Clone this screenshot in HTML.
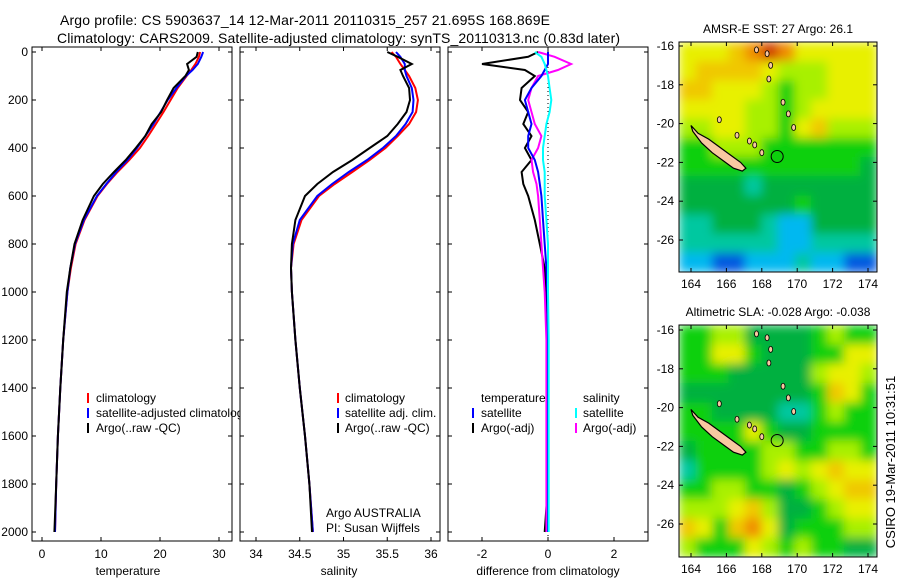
<!DOCTYPE html>
<html><head><meta charset="utf-8"><style>
body{margin:0;background:#fff}
svg{display:block;font-family:"Liberation Sans",sans-serif;font-size:12px}
</style></head><body>
<svg id="fig" width="900" height="580" viewBox="0 0 900 580">
<defs>
<filter id="blur" x="0" y="0" width="1" height="1"><feGaussianBlur stdDeviation="5" edgeMode="duplicate"/></filter>
<clipPath id="clipTop"><rect x="679" y="42" width="198" height="230"/></clipPath>
<clipPath id="clipBot"><rect x="679" y="325" width="198" height="232"/></clipPath>
</defs>
<text x="60" y="25" font-size="14" textLength="490">Argo profile: CS 5903637_14 12-Mar-2011 20110315_257 21.695S 168.869E</text>
<text x="57" y="43" font-size="14" textLength="563">Climatology: CARS2009. Satellite-adjusted climatology: synTS_20110313.nc (0.83d later)</text>
<g id="plots"></g>
<text transform="translate(895,462) rotate(-90)" text-anchor="middle" font-size="13">CSIRO 19-Mar-2011 10:31:51</text>
</svg>
<script>
const depths=[0,20,50,75,100,150,200,250,300,350,400,450,500,550,600,700,800,900,1000,1200,1400,1600,1800,2000];
const tempClim=[26.8,26.6,26,25.3,24.5,23,21.8,20.6,19.3,18,16.6,14.8,12.8,11,9.4,7.2,5.7,4.9,4.3,3.6,3.1,2.7,2.4,2.2];
const tempSat=[27.3,27,26.4,25.5,24.4,22.8,21.3,20.1,18.9,17.5,16.1,14.5,12.6,10.9,9.3,7.1,5.6,4.8,4.3,3.6,3.1,2.7,2.4,2.2];
const tempArgo=[26.4,26.2,24.6,24.9,24.3,22.3,21.2,20.2,18.6,17.5,15.9,14.2,12.2,10.3,8.8,6.9,5.5,4.8,4.2,3.6,3.1,2.7,2.4,2.1];
const salClim=[35.55,35.6,35.65,35.7,35.75,35.82,35.85,35.83,35.75,35.62,35.48,35.3,35.1,34.9,34.72,34.52,34.43,34.4,34.41,34.45,34.5,34.56,34.61,34.65];
const salSat=[35.6,35.65,35.7,35.7,35.72,35.78,35.8,35.79,35.71,35.6,35.45,35.27,35.06,34.87,34.7,34.5,34.42,34.4,34.41,34.45,34.5,34.56,34.61,34.65];
const salArgo=[35.5,35.62,35.78,35.65,35.68,35.75,35.76,35.72,35.62,35.5,35.3,35.1,34.88,34.7,34.56,34.45,34.41,34.4,34.41,34.45,34.5,34.56,34.61,34.64];
const dTempArgo=[-0.3,-0.6,-2.0,-0.7,-0.4,-0.8,-0.85,-0.6,-0.75,-0.5,-0.7,-0.5,-0.8,-0.75,-0.6,-0.4,-0.25,-0.1,-0.05,-0.02,0,0,0,-0.1];
const dTempSat=[0,0,0,-0.1,-0.2,-0.5,-0.7,-0.6,-0.5,-0.6,-0.6,-0.4,-0.3,-0.25,-0.2,-0.15,-0.1,-0.05,-0.02,0,0,0,0,0];
const dSalArgo=[-0.3,0.2,0.7,0.3,-0.3,-0.5,-0.6,-0.5,-0.4,-0.2,-0.3,-0.5,-0.45,-0.35,-0.3,-0.25,-0.2,-0.15,-0.1,-0.05,-0.05,-0.05,-0.05,-0.05];
const dSalSat=[-0.4,-0.2,-0.1,-0.05,0,0.05,0.1,0.05,-0.05,-0.1,-0.15,-0.15,-0.1,-0.1,-0.1,-0.05,0,0,0,0.02,0.02,0.02,0.02,0.02];
const depthTicks=[0,200,400,600,800,1000,1200,1400,1600,1800,2000];
const tempTicks=[0,10,20,30];
const salTicks=["34","34.5","35","35.5","36"];
const diffTicks=[-2,0,2];
const latTicks=[-16,-18,-20,-22,-24,-26];
const lonTicks=[164,166,168,170,172,174];
const palette=["#0058e0","#00b8f0","#00c8a0","#00b040","#10d010","#a8f000","#e8f000","#f0c800","#f08c00","#d04000"];
const sstGrid=[
[6,6,6,7,8,9,8,6,6,6,6,6],[6,7,7,7,7,6,5,5,5,6,6,6],[7,7,6,6,6,5,4,5,5,6,6,6],[6,6,6,6,5,5,4,5,6,6,6,6],
[5,5,6,6,5,5,4,6,7,5,5,5],[4,4,5,5,5,4,4,4,4,4,4,4],[4,4,4,4,4,4,4,4,4,4,4,3],[3,3,3,3,2,3,3,3,3,3,3,3],
[3,3,3,3,3,3,3,4,3,3,3,3],[2,2,3,3,3,2,1,1,3,3,3,3],[2,2,2,2,2,2,1,1,2,2,2,2],[1,1,0,0,1,1,1,2,1,1,0,0]];
const slaGrid=[
[4,4,5,5,3,3,3,3,4,5,4,4],[4,4,6,6,4,3,3,3,4,4,6,6],[4,4,4,3,3,3,3,3,5,6,6,5],[3,3,3,3,3,3,3,3,4,7,6,4],
[4,4,3,3,3,3,2,2,4,5,4,4],[4,4,4,4,6,4,3,3,4,4,4,4],[3,4,4,4,4,5,5,4,4,5,5,4],[2,4,4,4,4,5,6,5,6,7,6,6],
[4,4,5,5,4,4,3,4,5,6,7,7],[5,5,5,6,7,5,3,3,4,5,6,6],[7,6,4,7,8,6,3,4,4,4,5,5],[5,4,4,4,6,5,4,5,4,4,3,3]];
const ncLon=[164.0,164.4,165.0,165.6,166.2,166.8,167.1,166.9,166.4,165.8,165.2,164.6,164.1];
const ncLat=[-20.1,-20.5,-20.8,-21.2,-21.6,-22.0,-22.3,-22.45,-22.3,-21.9,-21.5,-21.0,-20.4];
const islLon=[167.7,168.3,168.5,168.4,169.2,169.5,167.3,167.6,168.0,166.6,165.6,169.8];
const islLat=[-16.2,-16.4,-17.0,-17.7,-18.9,-19.5,-20.9,-21.1,-21.5,-20.6,-19.8,-20.2];
const argoLon=168.869, argoLat=-21.695;

const NS="http://www.w3.org/2000/svg";
const root=document.getElementById('plots');
function mk(tag,attrs,parent){const e=document.createElementNS(NS,tag);for(const k in attrs)e.setAttribute(k,attrs[k]);(parent||root).appendChild(e);return e;}
function txt(x,y,s,anchor,parent){const t=mk('text',{x:x,y:y,'text-anchor':anchor||'start'},parent);t.textContent=s;return t;}
const yD=d=>52+d*0.24;
const Y0=47,Y1=541;
function panel(name,x0,x1){
  const g=mk('g',{});
  
  
  const r=mk('rect',{x:x0,y:Y0,width:x1-x0,height:Y1-Y0,fill:'#fff',stroke:'#000','stroke-width':1},g);
  
  
  return g;
}
function line(g,xs,xf,color,name,w){
  let p='';depths.forEach((d,i)=>{p+=(i?'L':'M')+xf(xs[i]).toFixed(1)+','+yD(d).toFixed(1);});
  const e=mk('path',{d:p,fill:'none',stroke:color,'stroke-width':w||2},g);
  
  
}
function xticks(g,vals,xf,labels){
  vals.forEach((v,i)=>{const x=xf(+v);
    mk('line',{x1:x,x2:x,y1:Y1,y2:Y1-4,stroke:'#000'},g);mk('line',{x1:x,x2:x,y1:Y0,y2:Y0+4,stroke:'#000'},g);
    const t=txt(x,558,labels?labels[i]:String(v),'middle',g);
    
    });
}
function legend(g,x,y,items,colx){
  items.forEach((it,i)=>{const yy=y+i*15;
    if(it[1]){const m=mk('line',{x1:colx,x2:colx,y1:yy-9,y2:yy+1,stroke:it[1],'stroke-width':2},g);
      
      }
    const t=txt(x,yy,it[0],'start',g);
    
    });
}
// Panel 1 temperature
const xT=v=>42+v*5.9;
const g1=panel('temperature-panel',32,232);
depthTicks.forEach(d=>{const y=yD(d);mk('line',{x1:32,x2:36,y1:y,y2:y,stroke:'#000'},g1);mk('line',{x1:228,x2:232,y1:y,y2:y,stroke:'#000'},g1);
  const t=txt(28,y+4,String(d),'end',g1);
  
  });
xticks(g1,tempTicks,xT);
line(g1,tempClim,xT,'#f00','temp-climatology-line');
line(g1,tempSat,xT,'#00f','temp-satellite-line');
line(g1,tempArgo,xT,'#000','temp-argo-line');
legend(g1,96,402,[['climatology','#f00'],['satellite-adjusted climatology','#00f'],['Argo(..raw -QC)','#000']],88);
const a1=txt(128,575,'temperature','middle',g1);


// Panel 2 salinity
const xS=v=>256+(v-34)*87.5;
const g2=panel('salinity-panel',240,440);
depthTicks.forEach(d=>{const y=yD(d);mk('line',{x1:240,x2:244,y1:y,y2:y,stroke:'#000'},g2);mk('line',{x1:436,x2:440,y1:y,y2:y,stroke:'#000'},g2);});
xticks(g2,salTicks,xS,salTicks);
line(g2,salClim,xS,'#f00','sal-climatology-line');
line(g2,salSat,xS,'#00f','sal-satellite-line');
line(g2,salArgo,xS,'#000','sal-argo-line');
legend(g2,345,402,[['climatology','#f00'],['satellite adj. clim.','#00f'],['Argo(..raw -QC)','#000']],338);
const n1=txt(326,517,'Argo AUSTRALIA','start',g2);


const n2=txt(326,532,'PI: Susan Wijffels','start',g2);


const a2=txt(339,575,'salinity','middle',g2);


// Panel 3 differences
const xDf=v=>548+v*33;
const g3=panel('difference-panel',448,648);
depthTicks.forEach(d=>{const y=yD(d);mk('line',{x1:448,x2:452,y1:y,y2:y,stroke:'#000'},g3);mk('line',{x1:644,x2:648,y1:y,y2:y,stroke:'#000'},g3);});
xticks(g3,diffTicks,xDf);
const z=mk('line',{x1:xDf(0),x2:xDf(0),y1:Y0,y2:Y1,stroke:'#000','stroke-dasharray':'1,3'},g3);


line(g3,dTempArgo,xDf,'#000','diff-temp-argo-line');
line(g3,dSalArgo,xDf,'#f0f','diff-sal-argo-line');
line(g3,dTempSat,xDf,'#00f','diff-temp-satellite-line');
line(g3,dSalSat,xDf,'#0ff','diff-sal-satellite-line');
legend(g3,481,402,[['temperature',null],['satellite','#00f'],['Argo(-adj)','#000']],473);
legend(g3,583,402,[['salinity',null],['satellite','#0ff'],['Argo(-adj)','#f0f']],576);
const a3=txt(548,575,'difference from climatology','middle',g3);


// Maps
function map(name,title,fy0,fy1,latTop,grid,clip){
  const g=mk('g',{});
  
  
  const fx0=679,fx1=877;
  const mx=lon=>691+(lon-164)*17.7, my=lat=>latTop+(-16-lat)*19.4;
  const cw=(fx1-fx0)/12,ch=(fy1-fy0)/12;
  const cg=mk('g',{'clip-path':'url(#'+clip+')'},g);
  const hg=mk('g',{filter:'url(#blur)'},cg);
  
  
  grid.forEach((row,r)=>row.forEach((c,k)=>{
    const cell=mk('rect',{x:fx0+k*cw,y:fy0+r*ch,width:cw+0.6,height:ch+0.6,fill:palette[c]},hg);
    
    
  }));
  let p='';ncLon.forEach((l,i)=>{p+=(i?'L':'M')+mx(l).toFixed(1)+','+my(ncLat[i]).toFixed(1);});
  const nc=mk('path',{d:p+'Z',fill:'#f8c8a0',stroke:'#000','stroke-width':1.2},g);
  
  
  islLon.forEach((l,i)=>{const e=mk('ellipse',{cx:mx(l),cy:my(islLat[i]),rx:2,ry:3,fill:'#f8c8a0',stroke:'#000','stroke-width':0.8},g);
    
    });
  const c=mk('circle',{cx:mx(argoLon),cy:my(argoLat),r:6,fill:'none',stroke:'#000'},g);
  
  
  const fr=mk('rect',{x:fx0,y:fy0,width:fx1-fx0,height:fy1-fy0,fill:'none',stroke:'#000'},g);
  
  
  latTicks.forEach(l=>{const y=my(l);mk('line',{x1:fx0,x2:fx0+4,y1:y,y2:y,stroke:'#000'},g);mk('line',{x1:fx1-4,x2:fx1,y1:y,y2:y,stroke:'#000'},g);
    const t=txt(fx0-5,y+4,String(l),'end',g);
    
    });
  lonTicks.forEach(l=>{const x=mx(l);mk('line',{x1:x,x2:x,y1:fy1,y2:fy1-4,stroke:'#000'},g);mk('line',{x1:x,x2:x,y1:fy0,y2:fy0+4,stroke:'#000'},g);
    const t=txt(x,fy1+16,String(l),'middle',g);
    
    });
  const tt=txt(778,fy0-9,title,'middle',g);
  
  
}
map('sst-map','AMSR-E SST: 27 Argo: 26.1',42,272,46,sstGrid,'clipTop');
map('sla-map','Altimetric SLA: -0.028 Argo: -0.038',325,557,330,slaGrid,'clipBot');
</script>
</body></html>
